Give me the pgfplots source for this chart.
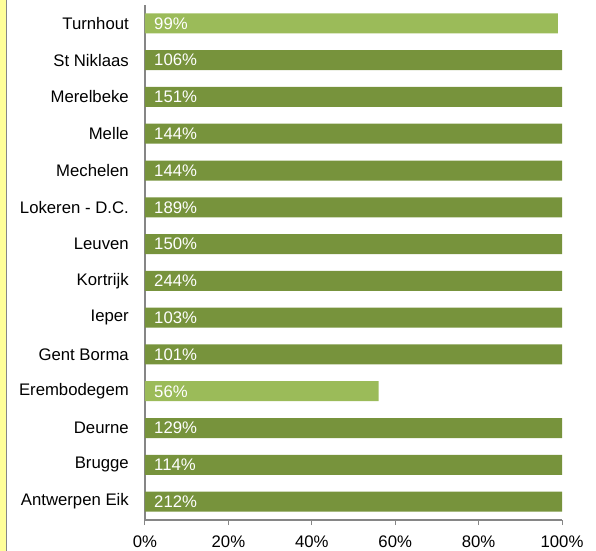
\documentclass[border=0pt]{standalone}
\usepackage{fontspec}
\setmainfont{Liberation Sans}
\usepackage{pgfplots}
\pgfplotsset{compat=1.18}
\definecolor{lightg}{HTML}{9BBB59}
\definecolor{darkg}{HTML}{77933C}
\definecolor{axgray}{HTML}{868686}
\definecolor{stripy}{HTML}{FFFF99}
\begin{document}
\begin{tikzpicture}[x=1bp,y=1bp]
\begin{axis}[
  at={(0,0)}, anchor=south west,
  scale only axis,
  width=417bp, height=515bp,
  xbar, bar width=20bp, bar shift=0pt,
  xmin=0, xmax=100,
  ymin=-0.5, ymax=13.5,
  ytick={0,...,13},
  yticklabels={Antwerpen Eik,Brugge,Deurne,Erembodegem,Gent Borma,Ieper,Kortrijk,Leuven,Lokeren - D.C.,Mechelen,Melle,Merelbeke,St Niklaas,Turnhout},
  xtick={0,20,40,60,80,100},
  xticklabels={0\%,20\%,40\%,60\%,80\%,100\%},
  axis x line*=bottom, axis y line*=left,
  axis line style={axgray, line width=1.5bp},
  y axis line style={-}, x axis line style={-},
  major tick length=5bp,
  xtick style={axgray, line width=1bp},
  x tick style={/pgfplots/tick align=outside},
  ytick style={draw=none},
  tick label style={font=\fontsize{16.8}{19}\selectfont, text=black},
  yticklabel style={inner sep=0pt, xshift=-11bp},
  xticklabel style={inner sep=0pt, yshift=-16bp},
  clip=false,
]
\addplot[fill=darkg, draw=none] coordinates {
 (100,0) (100,1) (100,2) (100,4) (100,5) (100,6) (100,7) (100,8) (100,9) (100,10) (100,11) (100,12)};
\addplot[fill=lightg, draw=none] coordinates {(56,3) (99,13)};
\addplot[only marks, mark=none, nodes near coords, point meta=explicit symbolic,
  every node near coord/.style={anchor=west, inner sep=0pt, xshift=9bp, text=white, font=\fontsize{16.8}{19}\selectfont}]
 table[meta=lab] {
x y lab
0 0 212\%
0 1 114\%
0 2 129\%
0 3 56\%
0 4 101\%
0 5 103\%
0 6 244\%
0 7 150\%
0 8 189\%
0 9 144\%
0 10 144\%
0 11 151\%
0 12 106\%
0 13 99\%
};
\end{axis}
\fill[stripy] (-145,-31) rectangle (-139,520);
\fill[axgray] (-139,-31) rectangle (-138,520);
\pgfresetboundingbox
\useasboundingbox (-145,-31) rectangle (451,520);
\end{tikzpicture}
\end{document}
